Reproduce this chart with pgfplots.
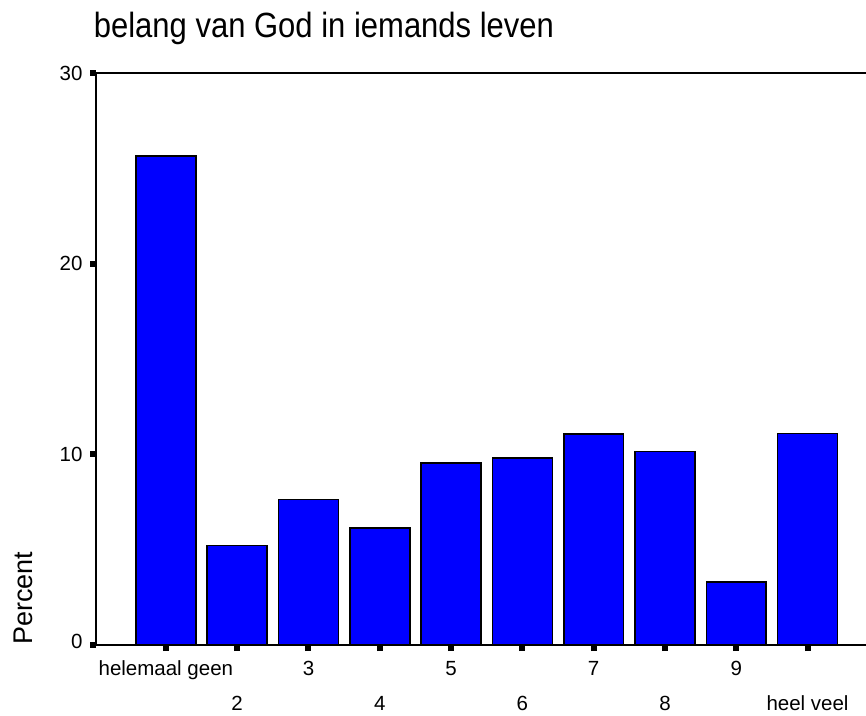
\documentclass[border=0pt]{standalone}
\usepackage{fontspec}
\setmainfont{Liberation Sans}
\usepackage{pgfplots}
\pgfplotsset{compat=1.18}
\begin{document}
\begin{tikzpicture}
\begin{axis}[
  name=ax,
  scale only axis,
  width=770pt, height=572pt,
  xmin=0.02, xmax=10.82,
  ymin=0, ymax=30,
  axis x line=box, axis y line=left,
  axis line style={line width=2pt, -},
  xtick pos=left, ytick pos=left,
  tick align=outside,
  major tick length=6pt,
  every tick/.style={line width=6pt, black},
  xtick={1,3,5,7,9},
  xticklabels={helemaal geen,3,5,7,9},
  extra x ticks={2,4,6,8,10},
  extra x tick labels={2,4,6,8,heel veel},
  extra x tick style={xticklabel style={yshift=-35pt}},
  xticklabel style={font=\fontsize{20.5}{22}\selectfont, anchor=base, yshift=-24pt},
  ytick={0,10,20,30},
  yticklabels={\raisebox{7pt}{0},10,20,30},
  yticklabel style={font=\fontsize{20.5}{22}\selectfont, xshift=-4pt},
  ylabel={Percent},
  ylabel style={font=\fontsize{27}{30}\selectfont, at={(axis description cs:-0.095,0.082)}, anchor=center, rotate=0},
  title={\scalebox{1}[1.13]{belang van God in iemands leven}},
  title style={font=\fontsize{31}{34}\selectfont, at={(axis description cs:-0.003,1.051)}, anchor=base west, inner sep=0pt, yshift=0pt},
]
\addplot[ybar, bar width=0.84, fill={rgb,255:red,0;green,0;blue,255}, draw=black, line width=1.6pt]
  coordinates {(1,25.64) (2,5.21) (3,7.64) (4,6.15) (5,9.53) (6,9.82) (7,11.07) (8,10.14) (9,3.32) (10,11.09)};
\end{axis}
\pgfresetboundingbox
\path (ax.south west) ++(-96pt,-70pt) rectangle ++(866pt,715pt);
\end{tikzpicture}
\end{document}
